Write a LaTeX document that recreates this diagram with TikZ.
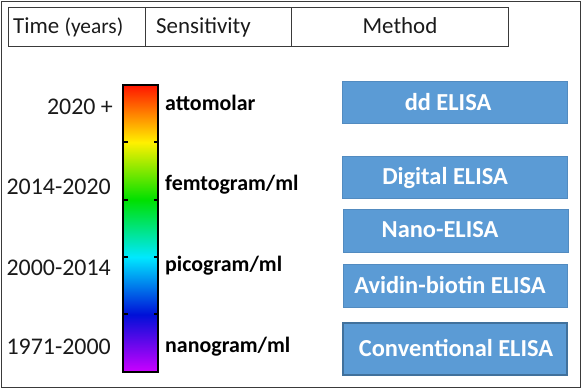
\documentclass[tikz,border=0pt]{standalone}
\usepackage{fontspec}
\setmainfont{Carlito}
\definecolor{boxblue}{HTML}{5B9BD5}
\definecolor{boxedge}{HTML}{41719C}
\definecolor{framegray}{HTML}{3A3A3A}
\definecolor{txt}{HTML}{1A1A1A}
\definecolor{barred}{HTML}{FF1500}
\definecolor{baryellow}{HTML}{FFF000}
\definecolor{bargreen}{HTML}{00E000}
\definecolor{barcyan}{HTML}{00E8FF}
\definecolor{barblue}{HTML}{0010D8}
\definecolor{barmag}{HTML}{CC00FF}
\pgfdeclareverticalshading{rainbowbar}{100bp}{color(0bp)=(barmag); color(25bp)=(barmag); color(35bp)=(barblue); color(45bp)=(barcyan); color(55bp)=(bargreen); color(65bp)=(baryellow); color(75bp)=(barred); color(100bp)=(barred)}
\begin{document}
\begin{tikzpicture}[x=1bp,y=-1bp,
  hdr/.style={font=\fontsize{23}{26}\selectfont, text=txt, inner sep=0pt},
  yearlbl/.style={font=\fontsize{24}{27}\selectfont, text=txt, anchor=east, inner sep=0pt},
  senslbl/.style={font=\bfseries\fontsize{22}{25}\selectfont, text=black, anchor=west, inner sep=0pt},
  methodbox/.style={fill=boxblue, draw=boxblue!90!black, line width=0.6bp},
  methodtxt/.style={font=\bfseries\fontsize{24.5}{27}\selectfont, text=white, inner sep=0pt},
  tick/.style={line width=1.6bp, black}
]
\useasboundingbox (0,0) rectangle (583,390);
\fill[white] (0,0) rectangle (583,390);
% outer frame
\draw[framegray, line width=1.8bp] (1.5,1.5) rectangle (580.5,387.5);
% header table
\draw[framegray, line width=1bp] (8,7) rectangle (508,46);
\draw[framegray, line width=1bp] (145,7) -- (145,46);
\draw[framegray, line width=1bp] (291,7) -- (291,46);
\node[hdr, anchor=west] (htime) at (13,27) {Time {\fontsize{21.5}{24}\selectfont (years)}};
\node[hdr, anchor=west] (hsens) at (156,27) {Sensitivity};
\node[hdr] (hmeth) at (400,26) {Method};
% colour bar
\shade[shading=rainbowbar] (123,85) rectangle (158,372);
\draw[black, line width=1.5bp] (123,85) rectangle (158,372);
\foreach \yy in {142,200,257,314}{
  \draw[tick] (123,\yy) -- (127.5,\yy);
  \draw[tick] (158,\yy) -- (153.5,\yy);
}
% years
\node[yearlbl] (y1) at (113,107) {2020 +};
\node[yearlbl] (y2) at (111,187) {2014-2020};
\node[yearlbl] (y3) at (111,268) {2000-2014};
\node[yearlbl] (y4) at (111,347) {1971-2000};
% sensitivities
\node[senslbl] (s1) at (165,103) {attomolar};
\node[senslbl] (s2) at (165,185) {femtogram/ml};
\node[senslbl] (s3) at (165,266) {picogram/ml};
\node[senslbl] (s4) at (165,347) {nanogram/ml};
% method boxes
\draw[methodbox] (342,81) rectangle (567,123);
\node[methodtxt] (m1) at (448,102) {dd ELISA};
\draw[methodbox] (342,156) rectangle (567,198);
\node[methodtxt] (m2) at (445,178) {Digital ELISA};
\draw[methodbox] (343,209) rectangle (568,252);
\node[methodtxt] (m3) at (440,230) {Nano-ELISA};
\draw[methodbox] (343,264) rectangle (567,307);
\node[methodtxt] (m4) at (450,285) {Avidin-biotin ELISA};
\draw[methodbox, draw=boxedge, line width=1.2bp] (343,323) rectangle (567,375);
\node[methodtxt] (m5) at (456,348) {Conventional ELISA};
\end{tikzpicture}
\end{document}
